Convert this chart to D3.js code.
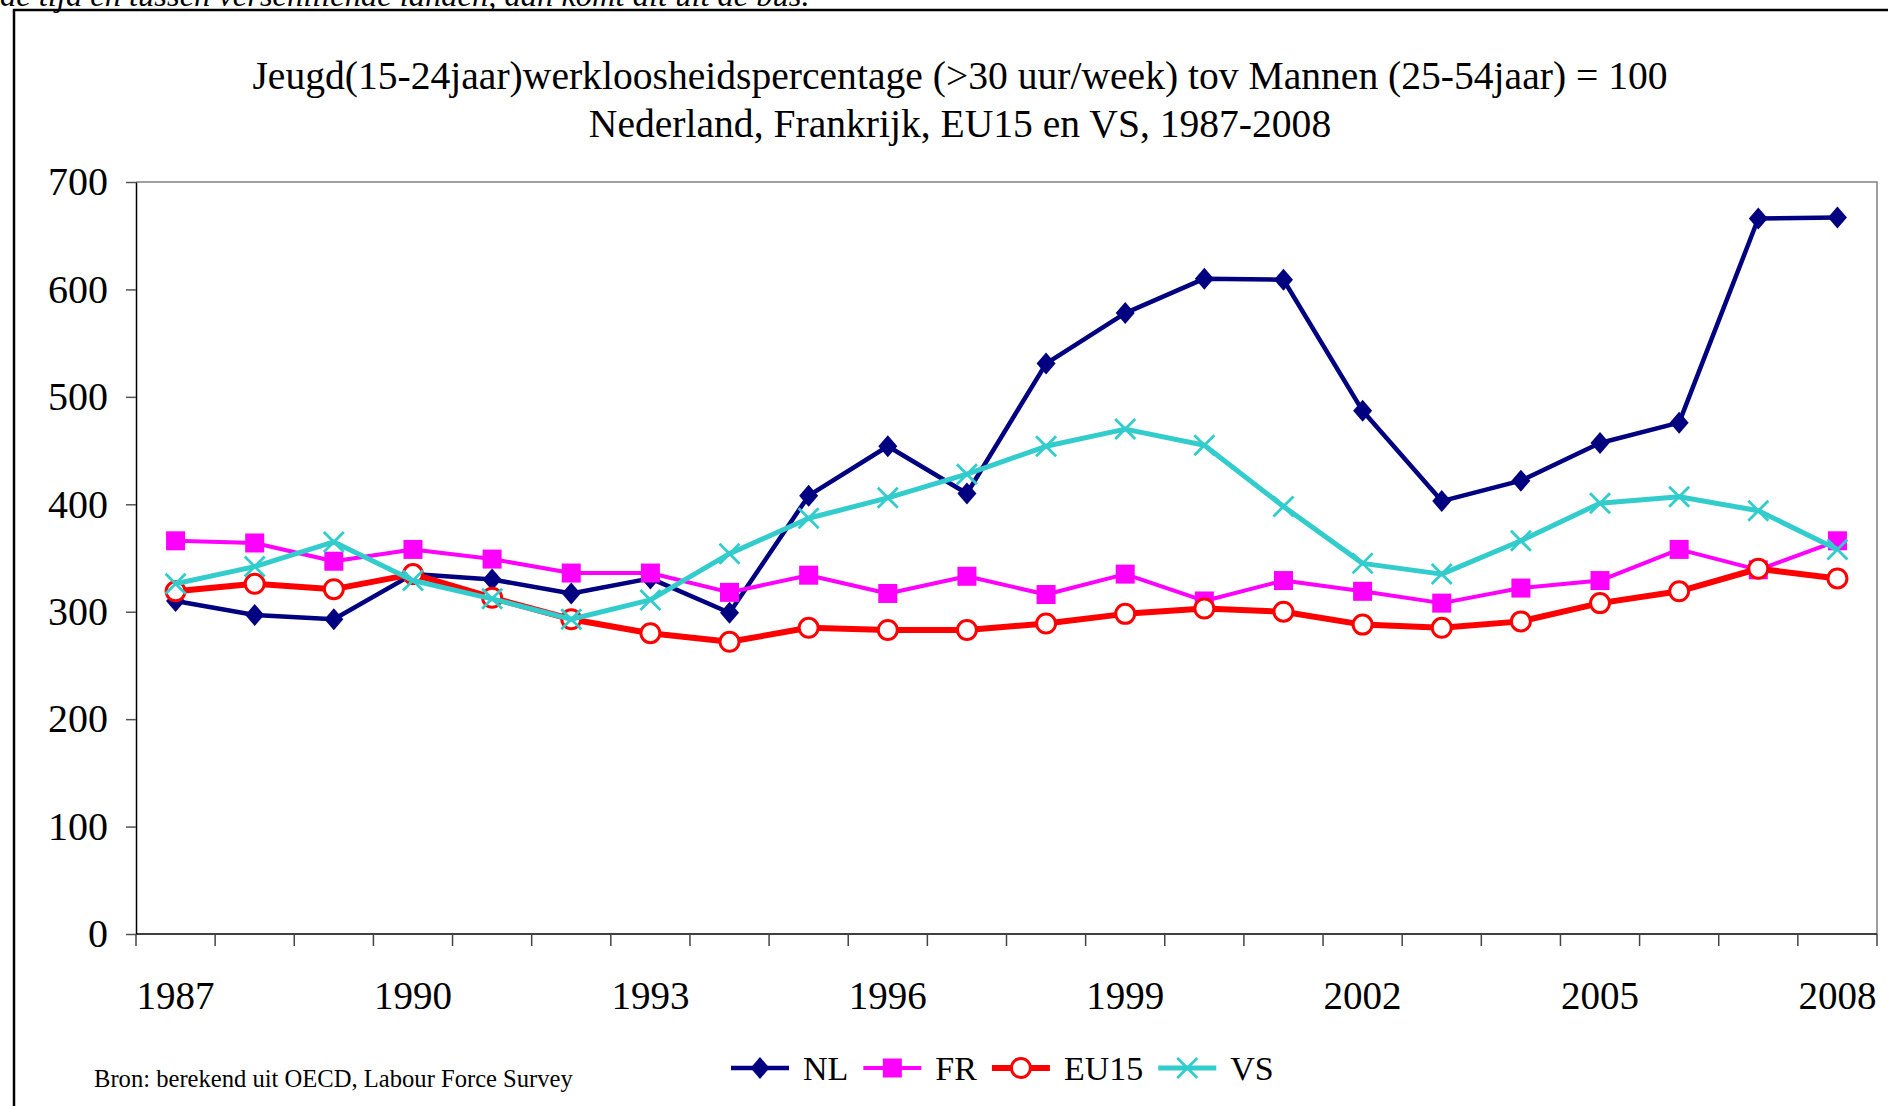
<!DOCTYPE html>
<html>
<head>
<meta charset="utf-8">
<script src="https://cdn.jsdelivr.net/npm/d3@7"></script>
<style>
  html, body { margin: 0; padding: 0; background: #fff; }
  svg { display: block; }
</style>
</head>
<body>
<div id="chart"></div>
<script>
const years = d3.range(1987, 2009)
const tickYears = [1987, 1990, 1993, 1996, 1999, 2002, 2005, 2008]
const yTicks = [0, 100, 200, 300, 400, 500, 600, 700]

const nl = [310, 297, 293, 335, 330, 317, 331, 299, 408, 454, 410, 531, 578, 610, 609, 487, 403, 422, 457, 476, 666, 667]
const fr = [366, 364, 347, 358, 349, 336, 336, 318, 334, 317, 333, 316, 335, 310, 329, 319, 308, 322, 329, 358, 339, 366]
const eu15 = [319, 326, 321, 335, 313, 293, 280, 272, 285, 283, 283, 289, 298, 303, 300, 288, 285, 291, 308, 319, 340, 331]
const vs = [326, 342, 365, 329, 312, 293, 311, 354, 387, 406, 428, 454, 470, 455, 398, 345, 335, 366, 401, 407, 394, 358]

const seriesNames = ['NL', 'FR', 'EU15', 'VS']
const seriesValues = [nl, fr, eu15, vs]
const colors = ['#000080', '#ff00ff', '#ff0000', '#33cccc']
const lineWidths = [4.5, 4, 6, 5]
const symbols = ['diamond', 'square', 'circle', 'cross']

const titleLines = [
  'Jeugd(15-24jaar)werkloosheidspercentage (>30 uur/week) tov Mannen (25-54jaar) = 100',
  'Nederland, Frankrijk, EU15 en VS, 1987-2008'
]
const sourceText = 'Bron: berekend uit OECD, Labour Force Survey'
const topText = 'de tijd en tussen verschillende landen, dan komt dit uit de bus.'

const W = 1888
const H = 1106
const plot = { left: 136, right: 1877, top: 182, bottom: 934 }
const serif = '"Liberation Serif", "Times New Roman", serif'

const svg = d3
  .select('#chart')
  .append('svg')
  .attr('width', W)
  .attr('height', H)
  .attr('font-family', serif)

// cut-off sentence from the page above the chart
svg
  .append('text')
  .attr('x', 0)
  .attr('y', 6)
  .attr('font-size', 32.5)
  .attr('font-style', 'italic')
  .text(topText)

// outer frame (only top and left visible)
svg
  .append('path')
  .attr('d', `M14,${H} V10 H${W}`)
  .attr('fill', 'none')
  .attr('stroke', '#000')
  .attr('stroke-width', 2.5)

const title = svg
  .append('text')
  .attr('text-anchor', 'middle')
  .attr('font-size', 39.6)

title
  .selectAll('tspan')
  .data(titleLines)
  .join('tspan')
  .attr('x', 960)
  .attr('y', (d, i) => 89 + i * 48)
  .text((d) => d)

const xScale = d3
  .scaleBand()
  .domain(years)
  .range([plot.left, plot.right])
  .paddingInner(0)
  .paddingOuter(0)

const yScale = d3.scaleLinear().domain([0, 700]).range([plot.bottom, plot.top])

const xCenter = (yr) => xScale(yr) + xScale.bandwidth() / 2

// plot border on top and right
svg
  .append('path')
  .attr('d', `M${plot.left},${plot.top} H${plot.right} V${plot.bottom}`)
  .attr('fill', 'none')
  .attr('stroke', '#808080')
  .attr('stroke-width', 1.5)

// y axis
const yAxis = d3
  .axisLeft(yScale)
  .tickValues(yTicks)
  .tickSize(10)
  .tickPadding(18)
  .tickSizeOuter(0)

svg
  .append('g')
  .attr('transform', `translate(${plot.left}, 0)`)
  .call(yAxis)
  .call((g) => g.select('.domain').attr('stroke', '#000').attr('stroke-width', 1.5))
  .call((g) => g.selectAll('.tick line').attr('stroke', '#555').attr('stroke-width', 1.5))
  .call((g) =>
    g
      .selectAll('.tick text')
      .attr('font-family', serif)
      .attr('font-size', 40)
      .attr('fill', '#000')
  )

// x axis: ticks at the category boundaries, labels every 3 years
const boundaries = years.map((yr) => xScale(yr)).concat([plot.right])
const xAxisG = svg.append('g')

xAxisG
  .append('line')
  .attr('x1', plot.left)
  .attr('x2', plot.right)
  .attr('y1', plot.bottom)
  .attr('y2', plot.bottom)
  .attr('stroke', '#000')
  .attr('stroke-width', 1.5)

xAxisG
  .selectAll('.xtick')
  .data(boundaries)
  .join('line')
  .attr('class', 'xtick')
  .attr('x1', (d) => d)
  .attr('x2', (d) => d)
  .attr('y1', plot.bottom)
  .attr('y2', plot.bottom + 12)
  .attr('stroke', '#444')
  .attr('stroke-width', 1.5)

xAxisG
  .selectAll('.xlabel')
  .data(tickYears)
  .join('text')
  .attr('class', 'xlabel')
  .attr('x', (d) => xCenter(d))
  .attr('y', 1009)
  .attr('text-anchor', 'middle')
  .attr('font-size', 39)
  .text((d) => d)

// markers
function drawMarker(g, type, color) {
  if (type === 'diamond') {
    g.append('path').attr('d', 'M0,-11 L9.5,0 L0,11 L-9.5,0 Z').attr('fill', color)
  } else if (type === 'square') {
    g.append('rect')
      .attr('x', -9.5)
      .attr('y', -9.5)
      .attr('width', 19)
      .attr('height', 19)
      .attr('fill', color)
  } else if (type === 'circle') {
    g.append('circle')
      .attr('r', 9.5)
      .attr('fill', '#fff')
      .attr('stroke', color)
      .attr('stroke-width', 3)
  } else {
    g.append('path')
      .attr('d', 'M-10,-10 L10,10 M-10,10 L10,-10')
      .attr('stroke', color)
      .attr('stroke-width', 2.8)
  }
}

const line = d3
  .line()
  .x((d, i) => xCenter(years[i]))
  .y((d) => yScale(d))

const seriesG = svg
  .append('g')
  .selectAll('g')
  .data(seriesNames)
  .join('g')

seriesG
  .append('path')
  .attr('d', (d, i) => line(seriesValues[i]))
  .attr('fill', 'none')
  .attr('stroke', (d, i) => colors[i])
  .attr('stroke-width', (d, i) => lineWidths[i])
  .attr('stroke-linejoin', 'round')

seriesG.each(function (name, si) {
  const g = d3.select(this)
  seriesValues[si].forEach((v, i) => {
    const m = g
      .append('g')
      .attr('transform', `translate(${xCenter(years[i])}, ${yScale(v)})`)
    drawMarker(m, symbols[si], colors[si])
  })
})

// legend
const legendY = 1068
let lx = 731
seriesNames.forEach((name, i) => {
  const item = svg.append('g').attr('transform', `translate(${lx}, ${legendY})`)
  item
    .append('line')
    .attr('x1', 0)
    .attr('x2', 58)
    .attr('stroke', colors[i])
    .attr('stroke-width', lineWidths[i])
  const m = item.append('g').attr('transform', 'translate(29, 0)')
  drawMarker(m, symbols[i], colors[i])
  const t = item
    .append('text')
    .attr('x', 72)
    .attr('y', 12)
    .attr('font-size', 34)
    .text(name)
  lx += 72 + t.node().getComputedTextLength() + 15
})

svg
  .append('text')
  .attr('x', 94)
  .attr('y', 1087)
  .attr('font-size', 24.6)
  .text(sourceText)
</script>
</body>
</html>
